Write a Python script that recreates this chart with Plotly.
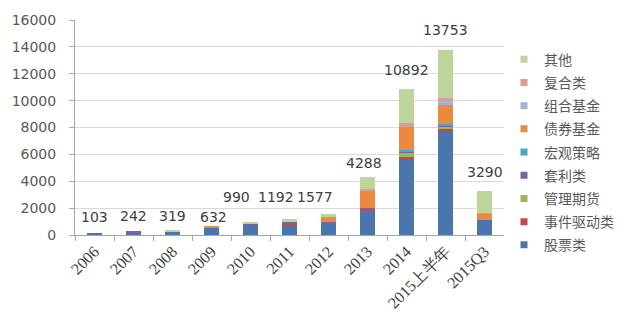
import plotly.graph_objects as go

# Categories (year / period)
categories = ["2006", "2007", "2008", "2009", "2010", "2011", "2012",
              "2013", "2014", "2015上半年", "2015Q3"]

# Product counts by strategy type
stock = [103, 220, 295, 560, 720, 780, 910, 1770, 5550, 7665, 1130]      # 股票类
event = [0, 0, 0, 0, 0, 30, 30, 200, 240, 220, 0]                         # 事件驱动类
cta = [0, 0, 0, 32, 20, 0, 0, 30, 320, 200, 0]                            # 管理期货
arbitrage = [0, 22, 0, 0, 80, 170, 40, 20, 80, 50, 0]                     # 套利类
macro = [0, 0, 0, 0, 40, 0, 0, 20, 100, 100, 0]                           # 宏观策略
bond = [0, 0, 0, 40, 0, 0, 350, 1300, 1740, 1420, 490]                    # 债券基金
fof = [0, 0, 0, 0, 0, 0, 0, 0, 0, 295, 0]                                 # 组合基金
multi = [0, 0, 0, 0, 0, 0, 0, 100, 290, 245, 40]                          # 复合类
other = [0, 0, 24, 0, 130, 212, 247, 848, 2572, 3558, 1630]               # 其他

totals = [103, 242, 319, 632, 990, 1192, 1577, 4288, 10892, 13753, 3290]

series = [
    ("股票类", stock, "#4A75AD"),
    ("事件驱动类", event, "#BE4B48"),
    ("管理期货", cta, "#98B954"),
    ("套利类", arbitrage, "#7D60A0"),
    ("宏观策略", macro, "#46AAC5"),
    ("债券基金", bond, "#EB8A3F"),
    ("组合基金", fof, "#9FB5D6"),
    ("复合类", multi, "#D99A98"),
    ("其他", other, "#BDD49B"),
]

# Pixel nudges for the total labels (dx, dy)
label_nudge = [(0, 17), (0, 16), (0, 15), (2, 10), (-14, 25), (-14, 22),
               (-14, 17), (-4, 14), (0, 19), (0, 20), (0, 19)]

fig = go.Figure()

for name, vals, color in series:
    fig.add_trace(go.Bar(
        x=categories, y=vals, name=name, marker_color=color,
        marker_line_width=0, showlegend=False,
    ))

# Legend entries with small square keys, listed top-down from 其他
for name, vals, color in reversed(series):
    fig.add_trace(go.Scatter(
        x=[categories[0]], y=[None], mode="markers", name=name,
        marker=dict(symbol="square", size=7, color=color),
        legendgroup=name, hoverinfo="skip",
    ))

# Total labels above each stack (category index on the category axis)
for idx, (tot, (dx, dy)) in enumerate(zip(totals, label_nudge)):
    fig.add_annotation(
        x=idx, y=tot, text=str(tot), showarrow=False,
        xanchor="center", yanchor="middle", xshift=dx, yshift=dy,
        font=dict(family="DejaVu Sans", size=14, color="#404040"),
    )

axis_grey = "#A6A6A6"
fig.update_layout(
    width=640, height=329,
    margin=dict(l=68, r=136, t=18, b=94, pad=0),
    paper_bgcolor="white", plot_bgcolor="white",
    barmode="stack", bargap=0.6,
    xaxis=dict(
        type="category", categoryorder="array", categoryarray=categories,
        range=[-0.5, len(categories) - 0.5],
        tickson="boundaries", ticks="outside", ticklen=5,
        tickcolor=axis_grey, showline=True, linecolor=axis_grey,
        showgrid=False, tickangle=-45,
        tickfont=dict(family="Liberation Serif", size=16, color="#404040"),
    ),
    yaxis=dict(
        range=[0, 16000], dtick=2000, showgrid=True, gridcolor="#D9D9D9",
        showline=True, linecolor=axis_grey, ticks="outside", ticklen=5,
        tickcolor=axis_grey, zeroline=False, ticklabelstandoff=10,
        tickformat="d",
        tickfont=dict(family="DejaVu Sans", size=14, color="#595959"),
    ),
    legend=dict(
        x=1.0, y=0.89, xanchor="left", yanchor="top",
        traceorder="grouped", tracegroupgap=2, maxheight=320,
        font=dict(family="Noto Sans CJK SC", size=14, color="#595959"),
        itemwidth=30,
    ),
)

fig.write_html("out.html")
